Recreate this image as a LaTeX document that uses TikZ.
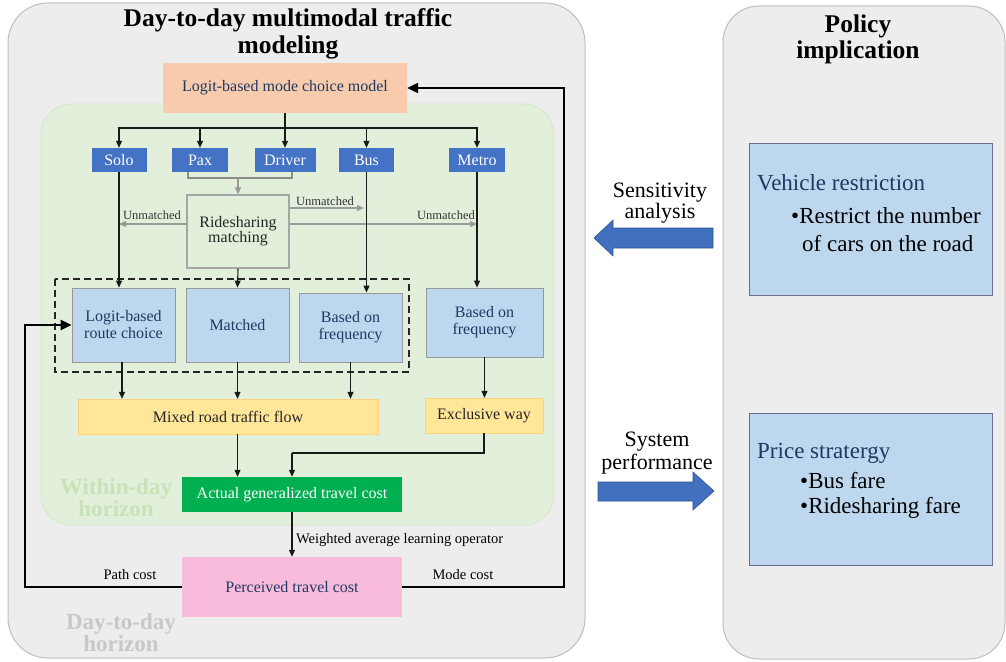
\documentclass[tikz,border=0pt]{standalone}
\usepackage{fontspec}
\setmainfont{Liberation Serif}
\usetikzlibrary{arrows.meta,calc}
\definecolor{panelgray}{HTML}{EDEDED}
\definecolor{panelline}{HTML}{BFBFBF}
\definecolor{greenreg}{HTML}{E2EFDA}
\definecolor{greenline}{HTML}{D5E8C8}
\definecolor{orangebox}{HTML}{F8CBAD}
\definecolor{modeblue}{HTML}{4472C4}
\definecolor{lightblue}{HTML}{BDD7EE}
\definecolor{navy}{HTML}{1F3864}
\definecolor{yellowbox}{HTML}{FFE699}
\definecolor{greenbox}{HTML}{00B050}
\definecolor{pinkbox}{HTML}{F8BBDC}
\definecolor{grayarrow}{HTML}{9A9A9A}
\definecolor{withinclr}{HTML}{C9E2B7}
\definecolor{daylabel}{HTML}{C8C8C8}
\definecolor{arrowblue}{HTML}{4170BE}
\definecolor{arrowedge}{HTML}{2F5597}
\begin{document}
\begin{tikzpicture}[x=1pt,y=-1pt,
  fsixteen/.style={font=\fontsize{16}{17}\selectfont},
  ffourteen/.style={font=\fontsize{14.5}{16}\selectfont},
  modebox/.style={fill=orangebox, draw=none, text=navy, fsixteen, inner sep=0pt},
  modebtn/.style={fill=modeblue, draw=none, text=white, fsixteen, inner sep=0pt, minimum height=24pt},
  routebox/.style={fill=lightblue, draw=gray!80, line width=0.8pt, text=navy, fsixteen, align=center, inner sep=0pt},
  rsbox/.style={fill=greenreg, draw=gray!70, line width=1.2pt, text=black!85, fsixteen, align=center, inner sep=0pt},
  flowbox/.style={fill=yellowbox, draw=yellowbox!80!orange, line width=0.3pt, text=black!85, fsixteen, inner sep=0pt},
  actbox/.style={fill=greenbox, draw=none, text=white, fsixteen, inner sep=0pt},
  percbox/.style={fill=pinkbox, draw=none, text=navy, fsixteen, inner sep=0pt},
  policybox/.style={fill=lightblue, draw=gray!85!blue, line width=0.8pt, inner sep=0pt},
  arr/.style={draw=black!90, line width=1.1pt, -{Triangle[length=7pt,width=6pt]}},
  plainline/.style={draw=black!90, line width=1.1pt},
  garr/.style={draw=grayarrow, line width=1.1pt, -{Triangle[length=7pt,width=6pt]}},
  gline/.style={draw=grayarrow!90!black, line width=1.1pt},
  tarr/.style={draw=black, line width=2.2pt, -{Triangle[length=11pt,width=10pt]}},
  smalllabel/.style={font=\fontsize{12.5}{14}\selectfont, text=black!80, inner sep=0pt},
  costlabel/.style={ffourteen, text=black, inner sep=0pt},
  righttext/.style={font=\fontsize{23}{24}\selectfont, inner sep=0pt, anchor=west},
  bigarrow/.style={fill=arrowblue, draw=arrowedge, line width=0.6pt}
]
\useasboundingbox (0,0) rectangle (1006,661);
\fill[white] (0,0) rectangle (1006,661);

% panels
\draw[fill=panelgray, draw=panelline, line width=1pt, rounded corners=40pt] (8,3) rectangle (585,658);
\draw[fill=panelgray, draw=panelline, line width=1pt, rounded corners=36pt] (723,6) rectangle (1005,659);
\draw[fill=greenreg, draw=greenline, line width=0.8pt, rounded corners=30pt] (41,104) rectangle (554,525);

% titles
\node[font=\fontsize{25.5}{27}\selectfont\bfseries, align=center, inner sep=0pt] (ltitle) at (288,34) {Day-to-day multimodal traffic\\modeling};
\node[font=\fontsize{25.5}{26}\selectfont\bfseries, align=center, inner sep=0pt] (rtitle) at (858,39) {Policy\\implication};

% horizon labels
\node[font=\fontsize{23}{22}\selectfont\bfseries, text=withinclr, align=center, inner sep=0pt] (within) at (116,498) {Within-day\\horizon};
\node[font=\fontsize{23}{22}\selectfont\bfseries, text=daylabel, align=center, inner sep=0pt] (daylbl) at (121,633) {Day-to-day\\horizon};

% mode choice
\node[modebox, minimum width=244pt, minimum height=50pt] (mode) at (285,88) {Logit-based mode choice model};

\node[modebtn, minimum width=55pt] (solo) at (119,160) {Solo};
\node[modebtn, minimum width=56pt] (pax) at (200,160) {Pax};
\node[modebtn, minimum width=61pt] (driver) at (285,160) {Driver};
\node[modebtn, minimum width=55pt] (bus) at (366.5,160) {Bus};
\node[modebtn, minimum width=56pt] (metro) at (477,160) {Metro};

\coordinate (bar) at (285,128);
\draw[plainline] (mode.south) -- (bar);
\draw[arr] (bar) -| (solo.north);
\draw[arr] (bar) -| (pax.north);
\draw[arr] (bar) -- (driver.north);
\draw[arr] (bar) -| (bus.north);
\draw[arr] (bar) -| (metro.north);

% ridesharing
\node[rsbox, minimum width=102pt, minimum height=73pt] (rs) at (238,231.5) {Ridesharing\\[-2pt]matching};
\coordinate (join) at (238,178);
\draw[gline] ($(pax.south)+(-12,0)$) |- (join);
\draw[gline] ($(driver.south)+(7,0)$) |- (join);
\draw[garr] (join) -- (rs.north);

\coordinate (umL) at (solo.south |- 0,224);
\coordinate (umR1) at (364,208);
\coordinate (umR2) at (metro.south |- 0,224);
\draw[garr] (rs.west |- umL) -- (umL);
\draw[garr] (rs.east |- umR1) -- (umR1);
\draw[garr] (rs.east |- umR2) -- (umR2);
\node[smalllabel] (uml) at (152,215) {Unmatched};
\node[smalllabel] (umr1) at (325,201) {Unmatched};
\node[smalllabel] (umr2) at (446,215) {Unmatched};

% second layer
\node[routebox, minimum width=103pt, minimum height=74pt] (route) at (123.5,325) {Logit-based\\route choice};
\node[routebox, minimum width=103pt, minimum height=74pt] (matched) at (237.5,325) {Matched};
\node[routebox, minimum width=103pt, minimum height=69pt] (bfreq) at (350.5,327.5) {Based on\\frequency};
\node[routebox, minimum width=117pt, minimum height=69pt] (mfreq) at (484.5,322.5) {Based on\\frequency};

\draw[black!85, line width=1.2pt, dash pattern=on 7pt off 4pt] (55,279) rectangle (409,372);

\draw[arr] (solo.south) -- (solo.south |- route.north);
\draw[arr] (rs.south) -- (matched.north);
\draw[arr] (bus.south) -- (bus.south |- bfreq.north);
\draw[arr] (metro.south) -- (metro.south |- mfreq.north);

% flows
\node[flowbox, minimum width=300pt, minimum height=35pt] (mixed) at (228,416.5) {Mixed road traffic flow};
\node[flowbox, minimum width=118pt, minimum height=35pt] (excl) at (484,415.5) {Exclusive way};

\coordinate (routeout) at ($(route.south)+(-1.5,0)$);
\draw[arr] (routeout) -- (routeout |- mixed.north);
\draw[arr] (matched.south) -- (matched.south |- mixed.north);
\draw[arr] (bfreq.south) -- (bfreq.south |- mixed.north);
\draw[arr] (mfreq.south) -- (mfreq.south |- excl.north);

% costs
\node[actbox, minimum width=220pt, minimum height=35pt] (actual) at (292,494.5) {Actual generalized travel cost};
\node[percbox, minimum width=220pt, minimum height=60pt] (perc) at (292,587) {Perceived travel cost};

\draw[arr] (matched.south |- mixed.south) -- (matched.south |- actual.north);
\coordinate (excljoin) at (292,453);
\draw[plainline] (excl.south) |- (excljoin);
\draw[arr] (excljoin) -- (actual.north);

\draw[arr] (actual.south) -- (perc.north);
\node[costlabel, anchor=west] (wlabel) at (296,540) {Weighted average learning operator};

\coordinate (lp) at (25,587);
\coordinate (rp) at (564,587);
\draw[tarr] (perc.west) -- (lp) |- (route.west);
\draw[tarr] (perc.east) -- (rp) |- (mode.east);
\node[costlabel] (pathlbl) at (130,575) {Path cost};
\node[costlabel] (modelbl) at (463,575) {Mode cost};

% right panel boxes
\node[policybox, minimum width=243pt, minimum height=152pt] (vbox) at (870.5,219) {};
\node[policybox, minimum width=243pt, minimum height=152pt] (pbox) at (870.5,489) {};
\node[righttext, text=navy] (vt) at (757,183) {Vehicle restriction};
\node[righttext] (vt1) at (791,216) {•Restrict the number};
\node[righttext] (vt2) at (802,244) {of cars on the road};
\node[righttext, text=navy] (pt) at (757,453) {Price stratergy};
\node[righttext] (pt1) at (800,481) {•Bus fare};
\node[righttext] (pt2) at (800,508) {•Ridesharing fare};

% big arrows
\draw[bigarrow] (713,228) -- (613,228) -- (613,220) -- (594,238) -- (613,256) -- (613,248) -- (713,248) -- cycle;
\draw[bigarrow] (598,482) -- (693,482) -- (693,472) -- (714,491) -- (693,510) -- (693,501) -- (598,501) -- cycle;
\node[font=\fontsize{22}{21}\selectfont, align=center, inner sep=0pt] (sens) at (660,203) {Sensitivity\\analysis};
\node[font=\fontsize{22}{23}\selectfont, align=center, inner sep=0pt] (sysp) at (657,453) {System\\performance};
\end{tikzpicture}
\end{document}
